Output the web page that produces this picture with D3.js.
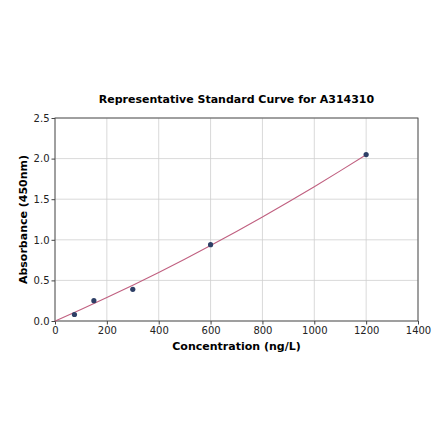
<!DOCTYPE html>
<html>
<head>
<meta charset="utf-8">
<script src="https://cdn.jsdelivr.net/npm/d3@7"></script>
<style>
  body { margin: 0; background: #fff; }
  text { font-family: "DejaVu Sans", sans-serif; }
</style>
</head>
<body>
<div id="chart"></div>
<script>
// measured standards
var concentration = [75, 150, 300, 600, 1200];
var absorbance = [0.08, 0.25, 0.39, 0.94, 2.05];

// fitted curve
var curveX = [0, 100, 200, 300, 400, 500, 600, 700, 800, 900, 1000, 1100, 1200];
var curveY = [0, 0.142, 0.289, 0.441, 0.598, 0.761, 0.929, 1.102, 1.281, 1.465, 1.654, 1.849, 2.048];

var xTicks = [0, 200, 400, 600, 800, 1000, 1200, 1400];
var yTicks = [0, 0.5, 1.0, 1.5, 2.0, 2.5];

var svgWidth = 440;
var svgHeight = 441;

var margin = {
    top: 118,
    bottom: 120,
    left: 55,
    right: 22
}

var chartWidth = svgWidth - margin.left - margin.right;
var chartHeight = svgHeight - margin.top - margin.bottom;

var svg = d3.select('#chart')
    .append('svg')
    .attr('width', svgWidth)
    .attr('height', svgHeight)

var chartGroup = svg.append('g')
    .attr('transform', `translate(${margin.left},${margin.top})`);

var xScale = d3.scaleLinear().domain([0, 1400]).range([0, chartWidth]);
var yScale = d3.scaleLinear().domain([0, 2.5]).range([chartHeight, 0]);

// grid
chartGroup.append('g')
    .selectAll('line')
    .data(xTicks)
    .enter()
    .append('line')
    .attr('x1', d => xScale(d)).attr('x2', d => xScale(d))
    .attr('y1', 0).attr('y2', chartHeight)
    .attr('stroke', '#cfcfcf').attr('stroke-width', 0.8)

chartGroup.append('g')
    .selectAll('line')
    .data(yTicks)
    .enter()
    .append('line')
    .attr('y1', d => yScale(d)).attr('y2', d => yScale(d))
    .attr('x1', 0).attr('x2', chartWidth)
    .attr('stroke', '#cfcfcf').attr('stroke-width', 0.8)

// axes
var bottomAxis = d3.axisBottom(xScale).tickValues(xTicks).tickFormat(d3.format('d')).tickSize(3.5).tickPadding(2);
var leftAxis = d3.axisLeft(yScale).tickValues(yTicks).tickFormat(d3.format('.1f')).tickSize(3.5).tickPadding(2);

var xAxis = chartGroup.append('g')
    .attr('transform', `translate(0,${chartHeight})`)
    .call(bottomAxis);
var yAxis = chartGroup.append('g')
    .call(leftAxis);

[xAxis, yAxis].forEach(a => {
    a.select('.domain').remove();
    a.selectAll('line').attr('stroke', '#444');
    a.selectAll('text').attr('font-size', '10px').attr('fill', '#222')
        .style('font-family', '"DejaVu Sans", sans-serif');
});

// frame
chartGroup.append('rect')
    .attr('x', 0).attr('y', 0)
    .attr('width', chartWidth).attr('height', chartHeight)
    .attr('fill', 'none')
    .attr('stroke', '#444').attr('stroke-width', 0.9)

// fitted curve
var line = d3.line()
    .x((d, i) => xScale(curveX[i]))
    .y(d => yScale(d))
    .curve(d3.curveMonotoneX)

chartGroup.append('path')
    .datum(curveY)
    .attr('d', line)
    .attr('fill', 'none')
    .attr('stroke', '#c06080')
    .attr('stroke-width', 1.1)

// points
chartGroup.selectAll('circle')
    .data(absorbance)
    .enter()
    .append('circle')
    .attr('cx', (d, i) => xScale(concentration[i]))
    .attr('cy', d => yScale(d))
    .attr('r', 2.6)
    .attr('fill', '#2e3f66')

// title and labels
svg.append('text')
    .attr('x', margin.left + chartWidth / 2)
    .attr('y', 103)
    .attr('text-anchor', 'middle')
    .attr('font-size', '11px')
    .attr('font-weight', 'bold')
    .text('Representative Standard Curve for A314310')

svg.append('text')
    .attr('x', margin.left + chartWidth / 2)
    .attr('y', 350)
    .attr('text-anchor', 'middle')
    .attr('font-size', '11px')
    .attr('font-weight', 'bold')
    .text('Concentration (ng/L)')

svg.append('text')
    .attr('transform', 'rotate(-90)')
    .attr('x', -(margin.top + chartHeight / 2))
    .attr('y', 27)
    .attr('text-anchor', 'middle')
    .attr('font-size', '11px')
    .attr('font-weight', 'bold')
    .text('Absorbance (450nm)')
</script>
</body>
</html>
